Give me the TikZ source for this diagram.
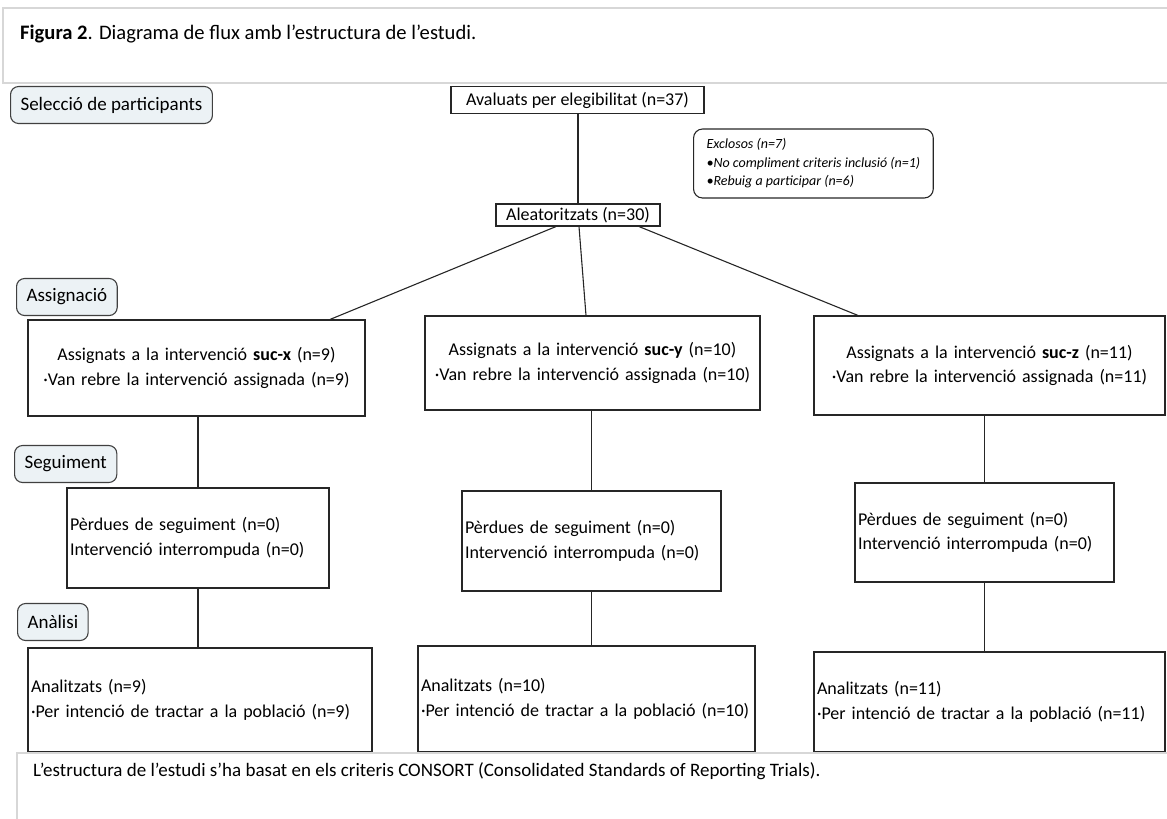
\documentclass[tikz,border=0pt]{standalone}
\usepackage{fontspec}
\setmainfont{Carlito}
\usepackage{xcolor}
\usepackage{tikz}
\usetikzlibrary{positioning, calc}
\definecolor{phasefill}{RGB}{236,242,245}
\definecolor{framegray}{RGB}{215,215,215}

\begin{document}
\begin{tikzpicture}[x=1pt, y=-1pt,
		box/.style={rectangle, draw=black!85, line width=1.1pt, inner xsep=2pt, inner ysep=2pt, font=\fontsize{18}{24.5}\selectfont},
		cbox/.style={box, align=center},
		lbox/.style={box, align=left},
		phase/.style={rectangle, rounded corners=8pt, draw=black!75, fill=phasefill, line width=1.1pt, inner xsep=10pt, minimum height=37pt, font=\fontsize{19}{23}\selectfont},
		excl/.style={rectangle, rounded corners=9pt, draw=black!85, line width=1.1pt, align=left, inner xsep=13pt, font=\fontsize{14}{18.5}\selectfont\itshape},
		frame/.style={draw=framegray, line width=2pt, fill=white},
		link/.style={draw=black!85, line width=1.1pt}]
		\useasboundingbox (0,0) rectangle (1167,819);
		
		% caption on top
		\draw[frame] (3,8) rectangle (1180,83);
		\node (title) [anchor=west, inner sep=0pt, font=\fontsize{20.6}{25}\selectfont] at (20,34) {\textbf{Figura 2}. Diagrama de flux amb l’estructura de l’estudi.};
		
		% phase labels
		\node (sel) [phase, anchor=west] at (10,105) {Selecció de participants};
		\node (asg) [phase, anchor=west] at (16,297) {Assignació};
		\node (seg) [phase, anchor=west] at (14,464) {Seguiment};
		\node (ana) [phase, anchor=west] at (17,622) {Anàlisi};
		
		% enrolment
		\node (eval) [cbox, minimum width=253, minimum height=27, inner xsep=6pt] at (577.5,100) {Avaluats per elegibilitat (n=37)};
		\node (excl) [excl, anchor=west, minimum height=69] at (693,163.5) {Exclosos (n=7)\\•No compliment criteris inclusió (n=1)\\•Rebuig a participar (n=6)};
		\node (rand) [cbox, minimum width=164, minimum height=22, inner ysep=1pt] at (578,215) {Aleatoritzats (n=30)};
		
		% allocation
		\node (ax) [cbox, text width=333, minimum height=96] at (196.5,368) {Assignats a la intervenció \textbf{suc-x} (n=9)\\·Van rebre la intervenció assignada (n=9)};
		\node (ay) [cbox, text width=331, minimum height=94] at (592.5,363) {Assignats a la intervenció \textbf{suc-y} (n=10)\\·Van rebre la intervenció assignada (n=10)};
		\node (az) [cbox, text width=347, minimum height=99] at (989.5,365.5) {Assignats a la intervenció \textbf{suc-z} (n=11)\\·Van rebre la intervenció assignada (n=11)};
		
		% follow-up
		\node (fx) [lbox, text width=256, minimum height=100, inner xsep=3pt] at (198,538) {Pèrdues de seguiment (n=0)\\Intervenció interrompuda (n=0)};
		\node (fy) [lbox, text width=253, minimum height=100, inner xsep=3pt] at (591.5,541) {Pèrdues de seguiment (n=0)\\Intervenció interrompuda (n=0)};
		\node (fz) [lbox, text width=253, minimum height=99, inner xsep=3pt] at (984.5,532.5) {Pèrdues de seguiment (n=0)\\Intervenció interrompuda (n=0)};
		
		% analysis
		\node (rx) [lbox, text width=338, minimum height=104, inner xsep=3pt] at (200,700) {Analitzats (n=9)\\·Per intenció de tractar a la població (n=9)};
		\node (ry) [lbox, text width=331, minimum height=106, inner xsep=3pt] at (586.5,699) {Analitzats (n=10)\\·Per intenció de tractar a la població (n=10)};
		\node (rz) [lbox, text width=345, minimum height=100, inner xsep=3pt] at (989.5,702) {Analitzats (n=11)\\·Per intenció de tractar a la població (n=11)};
		
		\draw[link] (rand.north |- eval.south) -- (rand.north);
		\draw[link] ($(rand.south)+(-22,0)$) -- ($(ax.north)+(133.5,0)$);
		\draw[link] ($(rand.south)+(1,0)$) -- ($(ay.north)+(-6.5,0)$);
		\draw[link] ($(rand.south)+(61,0)$) -- ($(az.north)+(-131.5,0)$);
		
		\draw[link] (fx.north |- ax.south) -- (fx.north);
		\draw[link] (fy.north |- ay.south) -- (fy.north);
		\draw[link] (fz.north |- az.south) -- (fz.north);
		
		\draw[link] (fx.south) -- (fx.south |- rx.north);
		\draw[link] (fy.south) -- (fy.south |- ry.north);
		\draw[link] (fz.south) -- (fz.south |- rz.north);
		
		% caption at the bottom
		\draw[frame] (17,753) rectangle (1180,830);
		\node (note) [anchor=west, inner sep=0pt, font=\fontsize{19}{23}\selectfont] at (33,771) {L’estructura de l’estudi s’ha basat en els criteris CONSORT (Consolidated Standards of Reporting Trials).};
	\end{tikzpicture}
\end{document}
